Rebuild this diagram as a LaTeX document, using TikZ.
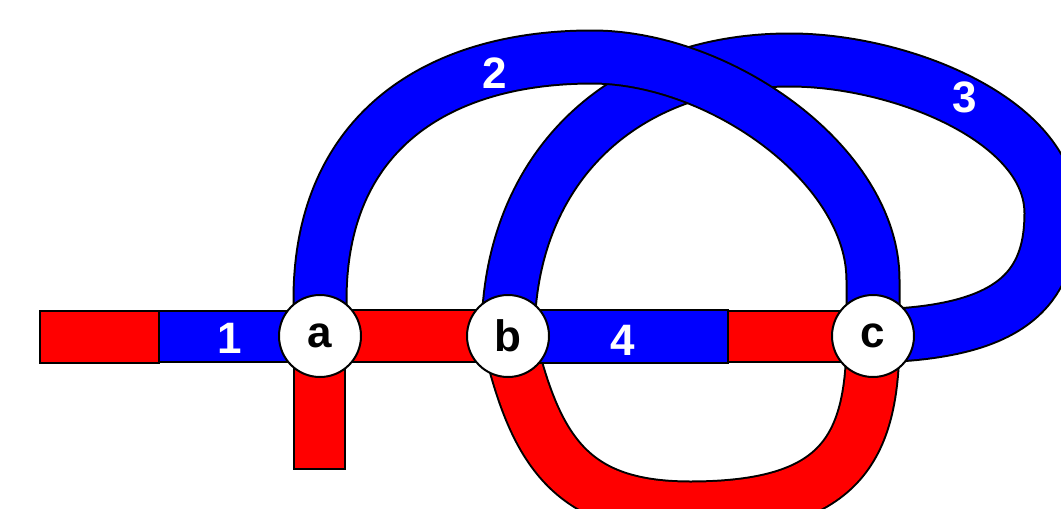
\documentclass[tikz,border=0pt]{standalone}
\usepackage{fontspec}
\setmainfont{Liberation Sans}
\usetikzlibrary{backgrounds}

\begin{document}
\begin{tikzpicture}[
        x=1pt, y=-1pt,
        knot/.style={circle, draw=black, fill=white, line width=2pt, minimum size=82pt, inner sep=0pt, font=\fontsize{44}{44}\selectfont\bfseries, text=black},
        band/.style={line width=51pt, line join=round, preaction={draw=black, line width=55pt}},
        bar/.style={draw=black, line width=2pt},
        num/.style={font=\fontsize{44}{44}\selectfont\bfseries, text=white}
    ]
        \useasboundingbox (0,0) rectangle (1061,509);

        % Crossings
        \node[knot] (a) at (320,336) {a};
        \node[knot] (b) at (508,336) {b};
        \node[knot] (c) at (873,336) {c};

        % Loose ends and splits of the strand
        \coordinate (w) at (40,337);
        \coordinate (s1) at (159,337);
        \coordinate (s4) at (728,337);
        \coordinate (foot) at (318,469);

        \begin{pgfonlayer}{background}
            \fill[white] (0,0) rectangle (1061,509);

            % Arc 3 (under arc 2)
            \draw[band, blue] (b.center) .. controls (508,170) and (620,60) .. (790,60)
                .. controls (900,60) and (1051,120) .. (1051,213)
                .. controls (1051,290) and (1010,333) .. (c.center);
            % Arc 2
            \draw[band, blue] (a.center) -- (320,300) .. controls (320,130) and (440,57) .. (592,57)
                .. controls (720,57) and (873,165) .. (873,280) -- (c.center);
            % Lower red arc
            \draw[band, red] (b.center) .. controls (535,450) and (570,508) .. (690,508)
                .. controls (840,508) and (873,450) .. (c.center);

            % Straight bars
            \draw[bar, fill=red] ([yshift=26pt]w) rectangle ([yshift=-26pt]s1);
            \draw[bar, fill=blue] ([yshift=26pt]s1) rectangle ([yshift=-26pt]a.center);
            \draw[bar, fill=red] ([yshift=26pt]a.center) rectangle ([yshift=-26pt]b.center);
            \draw[bar, fill=blue] ([yshift=26pt]b.center) rectangle ([yshift=-26pt]s4);
            \draw[bar, fill=red] ([yshift=26pt]s4) rectangle ([yshift=-26pt]c.center);
            \draw[bar, fill=red] ([xshift=-26.5pt]a.center) rectangle ([xshift=26.5pt]foot);
        \end{pgfonlayer}

        % Arc numbers
        \node[num] (n1) at (230,338) {1};
        \node[num] (n2) at (495,73) {2};
        \node[num] (n3) at (965,97) {3};
        \node[num] (n4) at (623,340) {4};
    \end{tikzpicture}
\end{document}
